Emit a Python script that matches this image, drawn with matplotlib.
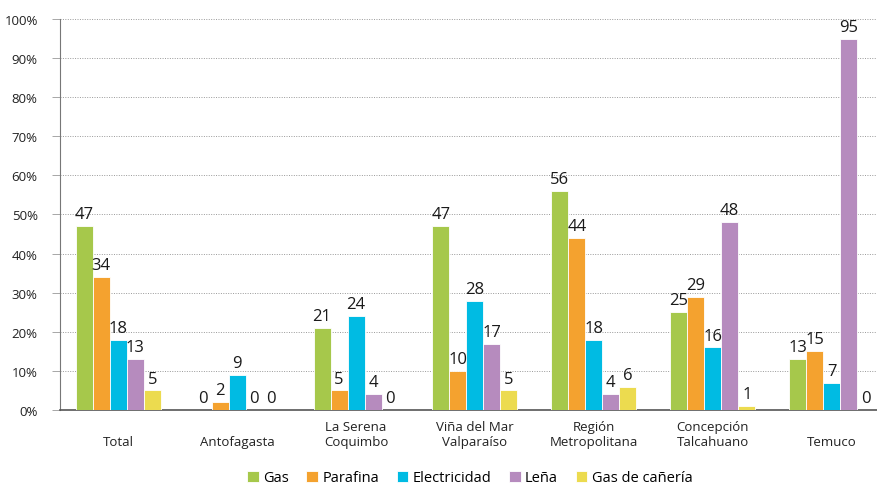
import matplotlib
matplotlib.use("Agg")
import matplotlib.pyplot as plt
import matplotlib.transforms as mtransforms
import numpy as np
from matplotlib.ticker import FuncFormatter

categories = ["Total", "Antofagasta", "La Serena\nCoquimbo", "Viña del Mar\nValparaíso",
              "Región\nMetropolitana", "Concepción\nTalcahuano", "Temuco"]
series_names = ["Gas", "Parafina", "Electricidad", "Leña", "Gas de cañería"]
gas = [47, 0, 21, 47, 56, 25, 13]
parafina = [34, 2, 5, 10, 44, 29, 15]
electricidad = [18, 9, 24, 28, 18, 16, 7]
lena = [13, 0, 4, 17, 4, 48, 95]
gas_caneria = [5, 0, 0, 5, 6, 1, 0]
colors = ["#A6C84B", "#F4A22F", "#00BBE3", "#B68BBE", "#ECDB4F"]

plt.rcParams['font.family'] = ['Open Sans', 'DejaVu Sans']

fig = plt.figure(figsize=(8.78, 4.85), dpi=100)
ax = fig.add_axes([0.0683, 0.1526, 0.9317, 0.8062])

data = [gas, parafina, electricidad, lena, gas_caneria]
x = np.arange(len(categories))
w = 0.143
for i, (vals, name, c) in enumerate(zip(data, series_names, colors)):
    pos = x + (i - 2) * w
    ax.bar(pos, vals, width=w, color=c, edgecolor="white", linewidth=0.6, label=name, zorder=3)
    for p, v in zip(pos, vals):
        ax.text(p, v + 1.0, f"{v}", ha="center", va="bottom", fontsize=12, color="#1a1a1a", zorder=4)

ax.set_ylim(0, 100)
ax.set_xlim(-0.49, 6.39)
ax.set_yticks(np.arange(0, 101, 10))
ax.yaxis.set_major_formatter(FuncFormatter(lambda v, _: f"{int(v)}%"))
ax.set_xticks(x)
ax.set_xticklabels([])
ax.tick_params(axis="x", length=0)
ax.tick_params(axis="y", length=6, color="#999999", width=0.6, labelsize=9.5, labelcolor="#222222", pad=10)
for t in ax.yaxis.get_major_ticks():
    t.tick1line.set_linestyle((0, (1, 1.2)))

trans = mtransforms.blended_transform_factory(ax.transData, ax.transAxes)
for xi, lab in zip(x, categories):
    ax.text(xi, -0.097, lab, transform=trans, ha="center", va="bottom", fontsize=9.5,
            color="#222222", linespacing=1.2, multialignment="center")

for yv in range(10, 101, 10):
    ax.axhline(yv, color="#999999", linestyle=(0, (1, 1.5)), linewidth=0.7, zorder=1)

ax.spines["top"].set_visible(False)
ax.spines["right"].set_visible(False)
ax.spines["left"].set_color("#777777")
ax.spines["bottom"].set_color("#555555")
ax.spines["bottom"].set_linewidth(1.2)

leg = fig.legend(loc="lower center", bbox_to_anchor=(0.535, -0.03), ncol=5, frameon=False,
                 fontsize=10.5, handlelength=0.8, handleheight=0.8, handletextpad=0.3,
                 columnspacing=1.2)

fig.savefig("out.png", dpi=100)
